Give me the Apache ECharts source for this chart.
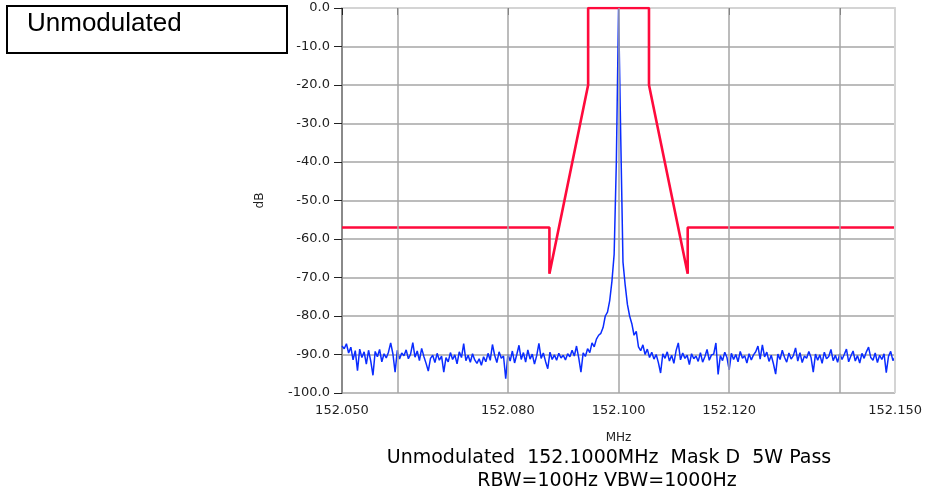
<!DOCTYPE html>
<html><head><meta charset="utf-8">
<script src="https://cdn.jsdelivr.net/npm/echarts@6/dist/echarts.min.js"></script>
<style>html,body{margin:0;padding:0;background:#fff}#c{width:925px;height:495px}</style>
</head><body><div id="c"></div>
<script>
// Sweep: start frequency and step (MHz), one trace value per step
const sweepStart = 152.050;
const sweepStep = 0.0004;
const traceDb = [
-87.8,-88.5,-87.2,-89.6,-88.1,-91.4,-89.0,-94.2,-88.6,-90.8,
-89.3,-92.5,-88.9,-91.7,-95.4,-89.2,-90.6,-88.7,-91.9,-89.8,
-90.9,-89.4,-87.0,-89.8,-94.6,-88.9,-91.2,-89.6,-90.3,-88.8,
-91.1,-89.9,-86.9,-90.7,-89.1,-91.6,-88.4,-90.5,-92.3,-94.3,
-91.0,-90.2,-92.1,-89.7,-91.5,-90.4,-94.6,-90.8,-91.9,-89.5,
-91.3,-90.1,-92.4,-89.3,-90.8,-87.2,-91.6,-90.2,-92.0,-89.8,
-91.4,-92.3,-91.1,-92.8,-90.6,-91.9,-89.7,-91.5,-87.4,-90.2,
-92.1,-89.3,-91.0,-90.4,-96.3,-89.9,-91.7,-89.1,-92.2,-90.0,
-87.6,-91.3,-89.5,-92.0,-88.8,-91.2,-89.9,-92.5,-90.3,-87.1,
-91.0,-89.6,-91.8,-93.7,-89.4,-91.3,-90.1,-91.5,-89.7,-90.9,
-90.2,-91.4,-89.8,-90.6,-88.9,-90.4,-87.8,-90.9,-94.6,-89.6,
-90.5,-88.5,-89.5,-87.0,-88.0,-86.0,-85.0,-84.5,-83.0,-80.0,-79.0,-76.0,-71.0,-64.0,-40.0,
0,
-34,-66,-72,-77,-80,-82,-85,-84,-88,-89,-87.5,-90.0,
-88.6,-90.8,-89.4,-91.2,-90.0,-92.1,-94.8,-89.8,-91.0,-89.3,-91.7,-90.2,
-92.3,-89.0,-87.0,-91.4,-89.6,-91.0,-90.2,-92.6,-89.8,-91.1,
-90.4,-91.8,-89.5,-92.0,-90.6,-88.7,-91.5,-90.1,-89.9,-87.0,
-95.2,-90.3,-91.6,-89.4,-90.8,-94.0,-89.7,-91.3,-90.0,-91.9,
-89.2,-91.0,-90.3,-92.2,-89.8,-91.4,-90.1,-89.3,-87.8,-91.2,
-87.5,-90.6,-89.4,-91.8,-90.2,-92.4,-95.1,-89.9,-91.3,-88.9,
-90.7,-92.0,-89.6,-91.2,-90.3,-88.3,-91.7,-89.5,-92.1,-90.4,
-91.0,-89.2,-90.8,-94.6,-89.9,-91.5,-90.1,-92.3,-89.4,-91.1,
-90.5,-88.7,-91.6,-90.2,-92.0,-89.8,-91.3,-90.0,-88.6,-91.9,
-90.4,-89.1,-91.7,-90.3,-92.2,-89.7,-91.0,-89.3,-88.1,-90.8,
-91.5,-89.6,-92.1,-90.2,-91.3,-89.8,-94.7,-90.5,-89.2,-91.6,-90.6
];
// Emission mask D (MHz, dB)
const maskFreq = [152.050, 152.0875, 152.0875, 152.0945, 152.0945, 152.1055, 152.1055, 152.1125, 152.1125, 152.150];
const maskDb   = [-57, -57, -69, -20, 0, 0, -20, -69, -57, -57];
// Axis ticks
const xLabelValues = [152.050, 152.080, 152.100, 152.120, 152.150];
const xTickValues = [152.050, 152.060, 152.080, 152.100, 152.120, 152.140, 152.150];
const xGridValues = [152.060, 152.080, 152.100, 152.120, 152.140];
const titleText = 'Unmodulated';
const footLine1 = 'Unmodulated  152.1000MHz  Mask D  5W Pass';
const footLine2 = 'RBW=100Hz VBW=1000Hz';

const traceData = traceDb.map((v, i) => [sweepStart + i * sweepStep, v]);
const maskData = maskFreq.map((f, i) => [f, maskDb[i]]);

const chart = echarts.init(document.getElementById('c'), null, {renderer: 'canvas'});
const fontF = '"DejaVu Sans", Verdana, sans-serif';
chart.setOption({
  animation: false,
  grid: {left: 342, top: 8, right: 29, bottom: 102, containLabel: false},
  xAxis: {
    type: 'value', min: 152.050, max: 152.150,
    name: 'MHz', nameLocation: 'middle', nameGap: 39,
    nameTextStyle: {fontFamily: fontF, fontSize: 12, color: '#222'},
    axisLine: {show: true, lineStyle: {color: '#d4d4d4', width: 2}},
    axisTick: {show: true, customValues: xTickValues, length: 7, lineStyle: {color: '#222', width: 1}},
    axisLabel: {customValues: xLabelValues, formatter: v => v.toFixed(3), fontFamily: fontF, fontSize: 13, color: '#222', margin: 11},
    splitLine: {show: false}
  },
  yAxis: {
    type: 'value', min: -100, max: 0, interval: 10,
    name: 'dB', nameLocation: 'middle', nameGap: 76,
    nameTextStyle: {fontFamily: fontF, fontSize: 12, color: '#222'},
    axisLine: {show: true, lineStyle: {color: '#8a8a8a', width: 2}},
    axisTick: {show: true, length: 8, lineStyle: {color: '#222', width: 1}},
    axisLabel: {formatter: v => v.toFixed(1), fontFamily: fontF, fontSize: 13, color: '#222', margin: 12},
    splitLine: {show: true, lineStyle: {color: '#a6a6a6', width: 1.5}}
  },
  series: [
    {
      type: 'line', data: [], z: 1, silent: true,
      markLine: {
        silent: true, symbol: 'none', label: {show: false}, animation: false,
        lineStyle: {color: '#a6a6a6', width: 1.5, type: 'solid'},
        data: xGridValues.map(v => ({xAxis: v})).concat([{xAxis: 152.150, lineStyle: {color: '#d4d4d4', width: 2, type: 'solid'}}])
      }
    },
    {
      type: 'line', data: traceData, showSymbol: false, z: 3,
      lineStyle: {color: '#0a2cff', width: 1.5}
    },
    {
      type: 'line', data: maskData, showSymbol: false, z: 4,
      lineStyle: {color: '#ff0a3c', width: 2.6}
    }
  ],
  graphic: [
    {type: 'rect', shape: {x: 7, y: 6, width: 280, height: 47}, style: {fill: '#fff', stroke: '#000', lineWidth: 2}},
    {type: 'text', x: 27, y: 24, style: {text: titleText, font: '26px "Liberation Sans", Arial, sans-serif', fill: '#000', textVerticalAlign: 'middle'}},
    {type: 'text', x: 609, y: 458, style: {text: footLine1, font: '19px ' + fontF, fill: '#000', textAlign: 'center', textVerticalAlign: 'middle'}},
    {type: 'text', x: 607, y: 481, style: {text: footLine2, font: '19px ' + fontF, fill: '#000', textAlign: 'center', textVerticalAlign: 'middle'}}
  ]
});
</script></body></html>
